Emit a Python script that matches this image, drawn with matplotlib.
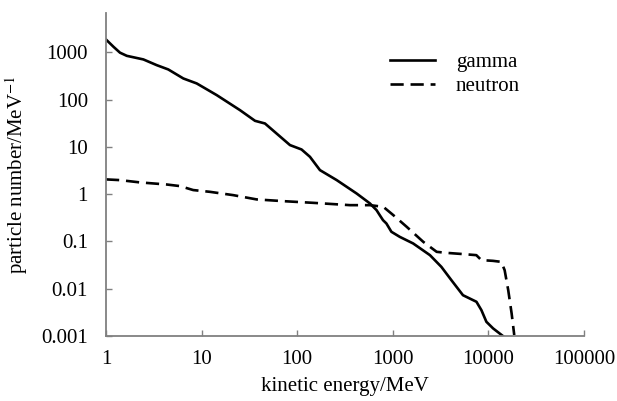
import matplotlib
matplotlib.use("Agg")
import matplotlib.pyplot as plt
from matplotlib.ticker import FixedLocator, FixedFormatter, NullLocator

plt.rcParams['font.family'] = ['Liberation Serif', 'DejaVu Serif']
plt.rcParams['mathtext.fontset'] = 'stix'

# spectrum (MeV, particles per MeV)
gamma_e = [1, 1.2, 1.4, 1.65, 2.46, 3.39, 4.48, 6.44, 8.89, 14.4, 25.2, 36.2, 46, 84, 111, 136,
           173, 259, 419, 576, 676, 730, 790, 857, 967, 1183, 1632, 2447, 3222, 4100,
           5420, 7500, 8450, 9530, 11200, 14200]
gamma_n = [1860, 1300, 980, 840, 705, 534, 433, 279, 219, 124, 59.7, 35.5, 31.2, 10.9, 8.8, 6.15,
           3.22, 1.98, 1.03, 0.637, 0.459, 0.36, 0.282, 0.24, 0.16, 0.125, 0.0907, 0.0513,
           0.029, 0.0152, 0.0073, 0.0053, 0.00353, 0.002, 0.00145, 0.001]

neutron_e = [1, 1.4, 2.27, 4.31, 5.94, 8.17, 12.2, 21.4, 37.7, 71.6, 147, 357, 576, 795,
             1012, 1397, 2084, 2877, 3630, 5460, 7480, 8440, 11150, 13640, 14790, 16130,
             17500, 18640]
neutron_n = [2.05, 1.98, 1.77, 1.60, 1.48, 1.22, 1.12, 0.953, 0.773, 0.711, 0.655, 0.585,
             0.585, 0.54, 0.36, 0.204, 0.098, 0.0603, 0.0574, 0.054, 0.0513, 0.0403, 0.0389,
             0.037, 0.0247, 0.0093, 0.003, 0.00105]

x_ticks = [1, 10, 100, 1000, 10000, 100000]
x_labels = ['1', '10', '100', '1000', '10000', '100000']
y_ticks = [0.001, 0.01, 0.1, 1, 10, 100, 1000]
y_labels = ['0.001', '0.01', '0.1', '1', '10', '100', '1000']

fig = plt.figure(figsize=(6.17, 4.01), dpi=100)
ax = fig.add_axes([0.1718, 0.162, 0.7747, 0.8056])

ax.plot(gamma_e, gamma_n, color='black', lw=1.9, label='gamma', solid_joinstyle='round')
ax.plot(neutron_e, neutron_n, color='black', lw=1.9, dashes=(5, 2.6), label='neutron')

ax.set_xscale('log')
ax.set_yscale('log')
ax.set_xlim(1, 100000)
ax.set_ylim(0.001, 10 ** 3.83)

ax.xaxis.set_major_locator(FixedLocator(x_ticks))
ax.xaxis.set_major_formatter(FixedFormatter(x_labels))
ax.yaxis.set_major_locator(FixedLocator(y_ticks))
ax.yaxis.set_major_formatter(FixedFormatter(y_labels))
ax.xaxis.set_minor_locator(NullLocator())
ax.yaxis.set_minor_locator(NullLocator())

for side in ['top', 'right']:
    ax.spines[side].set_visible(False)
for side in ['left', 'bottom']:
    ax.spines[side].set_color('#808080')
    ax.spines[side].set_linewidth(1.3)
ax.tick_params(direction='in', length=4, width=1, color='#808080', labelsize=15)
ax.tick_params(axis='x', pad=10)
ax.tick_params(axis='y', pad=13)

ax.set_xlabel('kinetic energy/MeV', fontsize=15, labelpad=6)
ax.set_ylabel('particle number/MeV$^{-1}$', fontsize=15, labelpad=8)

ax.legend(loc='upper left', bbox_to_anchor=(0.555, 0.935), frameon=False, fontsize=15,
          handlelength=2.15, handletextpad=1.0, labelspacing=0.2)

fig.savefig('out.png', dpi=100)
